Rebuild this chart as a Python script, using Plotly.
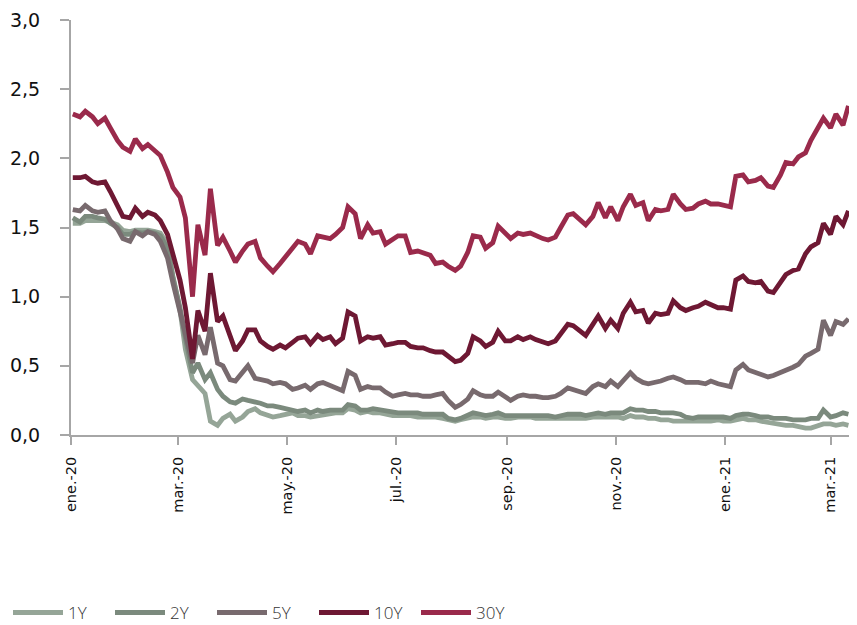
import pandas as pd
import plotly.graph_objects as go

# Observation dates: every Monday and Thursday, 2 Jan 2020 - 11 Mar 2021
dates = sorted(list(pd.date_range("2020-01-02", "2021-03-11", freq="W-THU")) +
               list(pd.date_range("2020-01-06", "2021-03-11", freq="W-MON")))

y1 = [1.53, 1.53, 1.55, 1.55, 1.55, 1.55, 1.54, 1.52, 1.48,
      1.47, 1.48, 1.48, 1.48, 1.47, 1.46, 1.38, 1.15,
      0.90, 0.62, 0.40, 0.36, 0.30, 0.10, 0.07, 0.12, 0.15,
      0.10, 0.13, 0.17, 0.19, 0.16, 0.14, 0.13, 0.14, 0.15,
      0.16, 0.14, 0.14, 0.13, 0.14, 0.15, 0.16, 0.16,
      0.16, 0.19, 0.18, 0.16, 0.17, 0.16, 0.16, 0.15, 0.14,
      0.14, 0.14, 0.14, 0.13, 0.13, 0.13, 0.13, 0.12, 0.11,
      0.10, 0.11, 0.12, 0.13, 0.13, 0.12, 0.13, 0.13, 0.12,
      0.12, 0.13, 0.13, 0.13, 0.12, 0.12, 0.12, 0.12,
      0.12, 0.12, 0.12, 0.12, 0.12, 0.13, 0.13, 0.13, 0.13,
      0.13, 0.12, 0.14, 0.13, 0.13, 0.12, 0.12, 0.11, 0.11,
      0.10, 0.10, 0.10, 0.10, 0.10, 0.10, 0.10, 0.11, 0.10,
      0.10, 0.11, 0.12, 0.11, 0.11, 0.10, 0.09, 0.09,
      0.08, 0.07, 0.07, 0.06, 0.05, 0.05, 0.07, 0.08,
      0.08, 0.07, 0.08, 0.07]

y2 = [1.57, 1.54, 1.58, 1.58, 1.57, 1.56, 1.53, 1.50, 1.45,
      1.45, 1.47, 1.46, 1.47, 1.46, 1.44, 1.35, 1.14,
      0.92, 0.70, 0.45, 0.52, 0.40, 0.45, 0.33, 0.28, 0.24,
      0.23, 0.26, 0.25, 0.24, 0.23, 0.21, 0.21, 0.20, 0.19,
      0.18, 0.17, 0.18, 0.16, 0.18, 0.17, 0.18, 0.18,
      0.18, 0.22, 0.21, 0.18, 0.18, 0.19, 0.18, 0.17, 0.16,
      0.16, 0.16, 0.16, 0.16, 0.15, 0.15, 0.15, 0.15, 0.12,
      0.11, 0.12, 0.14, 0.16, 0.15, 0.14, 0.15, 0.16, 0.14,
      0.14, 0.14, 0.14, 0.14, 0.14, 0.14, 0.14, 0.13,
      0.14, 0.15, 0.15, 0.15, 0.14, 0.15, 0.16, 0.15, 0.16,
      0.16, 0.16, 0.19, 0.18, 0.18, 0.17, 0.17, 0.16, 0.16,
      0.16, 0.15, 0.13, 0.12, 0.13, 0.13, 0.13, 0.13, 0.13,
      0.12, 0.14, 0.15, 0.15, 0.14, 0.13, 0.13, 0.12,
      0.12, 0.12, 0.11, 0.11, 0.11, 0.12, 0.12, 0.18,
      0.13, 0.14, 0.16, 0.15]

y5 = [1.63, 1.62, 1.66, 1.62, 1.61, 1.62, 1.55, 1.49, 1.42,
      1.40, 1.47, 1.44, 1.47, 1.45, 1.40, 1.28, 1.10,
      0.89, 0.75, 0.52, 0.72, 0.58, 0.78, 0.52, 0.50, 0.40,
      0.39, 0.45, 0.50, 0.41, 0.40, 0.39, 0.37, 0.38, 0.37,
      0.33, 0.34, 0.36, 0.33, 0.37, 0.38, 0.36, 0.34,
      0.32, 0.46, 0.43, 0.33, 0.35, 0.34, 0.34, 0.31, 0.28,
      0.29, 0.30, 0.29, 0.29, 0.28, 0.28, 0.29, 0.30, 0.25,
      0.20, 0.22, 0.26, 0.32, 0.29, 0.28, 0.28, 0.31, 0.27,
      0.25, 0.28, 0.29, 0.28, 0.28, 0.27, 0.27, 0.28,
      0.30, 0.34, 0.33, 0.31, 0.30, 0.35, 0.37, 0.35, 0.39,
      0.35, 0.39, 0.45, 0.41, 0.38, 0.37, 0.38, 0.39, 0.41,
      0.42, 0.40, 0.38, 0.38, 0.38, 0.37, 0.39, 0.37, 0.36,
      0.35, 0.47, 0.51, 0.47, 0.45, 0.44, 0.42, 0.43,
      0.45, 0.47, 0.49, 0.51, 0.57, 0.59, 0.62, 0.83,
      0.72, 0.82, 0.80, 0.84]

y10 = [1.86, 1.86, 1.87, 1.83, 1.82, 1.83, 1.76, 1.66, 1.58,
       1.57, 1.64, 1.58, 1.61, 1.59, 1.55, 1.45, 1.32,
       1.12, 0.92, 0.55, 0.90, 0.75, 1.17, 0.82, 0.86, 0.72,
       0.61, 0.68, 0.76, 0.76, 0.68, 0.64, 0.62, 0.65, 0.63,
       0.67, 0.70, 0.71, 0.66, 0.72, 0.69, 0.71, 0.66,
       0.70, 0.89, 0.86, 0.68, 0.71, 0.70, 0.71, 0.65, 0.66,
       0.67, 0.67, 0.64, 0.63, 0.63, 0.61, 0.60, 0.60, 0.57,
       0.53, 0.54, 0.59, 0.71, 0.68, 0.64, 0.67, 0.75, 0.68,
       0.68, 0.71, 0.69, 0.71, 0.69, 0.67, 0.66, 0.68,
       0.73, 0.80, 0.79, 0.75, 0.72, 0.80, 0.86, 0.77, 0.83,
       0.77, 0.88, 0.96, 0.89, 0.90, 0.81, 0.88, 0.87, 0.88,
       0.97, 0.92, 0.90, 0.92, 0.93, 0.96, 0.94, 0.92, 0.92,
       0.91, 1.12, 1.15, 1.11, 1.10, 1.11, 1.04, 1.03,
       1.10, 1.16, 1.19, 1.20, 1.31, 1.36, 1.39, 1.53,
       1.45, 1.58, 1.52, 1.62]

y30 = [2.32, 2.30, 2.34, 2.30, 2.25, 2.29, 2.22, 2.13, 2.08,
       2.05, 2.14, 2.07, 2.10, 2.06, 2.02, 1.90, 1.79,
       1.72, 1.57, 1.00, 1.52, 1.30, 1.78, 1.37, 1.43, 1.33,
       1.25, 1.33, 1.38, 1.40, 1.28, 1.22, 1.18, 1.24, 1.29,
       1.35, 1.40, 1.38, 1.31, 1.44, 1.43, 1.42, 1.45,
       1.50, 1.65, 1.60, 1.42, 1.52, 1.46, 1.47, 1.38, 1.42,
       1.44, 1.44, 1.32, 1.33, 1.32, 1.30, 1.24, 1.25, 1.22,
       1.19, 1.22, 1.32, 1.44, 1.43, 1.35, 1.39, 1.51, 1.46,
       1.42, 1.46, 1.45, 1.46, 1.44, 1.42, 1.41, 1.43,
       1.50, 1.59, 1.60, 1.56, 1.52, 1.58, 1.68, 1.57, 1.65,
       1.55, 1.65, 1.74, 1.66, 1.68, 1.55, 1.63, 1.62, 1.63,
       1.74, 1.67, 1.63, 1.64, 1.67, 1.69, 1.67, 1.67, 1.66,
       1.65, 1.87, 1.88, 1.83, 1.84, 1.86, 1.80, 1.79,
       1.88, 1.97, 1.96, 2.01, 2.04, 2.13, 2.23, 2.29,
       2.22, 2.32, 2.24, 2.38]

tick_vals = ["2020-01-01", "2020-03-01", "2020-05-01", "2020-07-01",
             "2020-09-01", "2020-11-01", "2021-01-01", "2021-03-01"]
tick_text = ["ene.-20", "mar.-20", "may.-20", "jul.-20",
             "sep.-20", "nov.-20", "ene.-21", "mar.-21"]

names = ["1Y", "2Y", "5Y", "10Y", "30Y"]
series = [y1, y2, y5, y10, y30]
colors = ["#95a597", "#7b8a7d", "#786a6e", "#6e1833", "#9a2a4b"]

fig = go.Figure()
for n, s, c in zip(names, series, colors):
    fig.add_trace(go.Scatter(x=dates, y=s, name=n, mode="lines",
                             line=dict(color=c, width=4.8)))

axis_col = "#a6a6a6"
# the page body adds an 8px offset, so the figure is sized to the visible area
fig.update_layout(
    template="none",
    width=849, height=617,
    margin=dict(l=63, r=5, t=12, b=190, pad=0),
    paper_bgcolor="white", plot_bgcolor="white",
    separators=",.",
    showlegend=True,
    legend=dict(orientation="h", xref="container", yref="container",
                x=0.0, xanchor="left", y=0.0195, yanchor="middle",
                font=dict(family="Open Sans", size=17, color="#333333", weight=300),
                entrywidth=37, entrywidthmode="pixels", itemwidth=50,
                traceorder="normal", bgcolor="rgba(0,0,0,0)"),
    xaxis=dict(type="date", range=["2020-01-01", "2021-03-13"],
               tickvals=tick_vals, ticktext=tick_text, tickangle=-90,
               ticks="outside", ticklen=8, tickcolor=axis_col, tickwidth=2,
               showline=True, linecolor=axis_col, linewidth=2,
               showgrid=False, zeroline=False, automargin=False,
               ticklabelstandoff=6, ticklabeloverflow="allow",
               tickfont=dict(family="DejaVu Sans", size=14.5, color="#111111")),
    yaxis=dict(range=[0, 3], dtick=0.5, tickformat=".1f",
               ticks="outside", ticklen=9, tickcolor=axis_col, tickwidth=2,
               showline=True, linecolor=axis_col, linewidth=2,
               showgrid=False, zeroline=False, automargin=False,
               ticklabelstandoff=16, ticklabeloverflow="allow",
               tickfont=dict(family="DejaVu Sans", size=19, color="#111111")),
)

fig.write_html("out.html")
